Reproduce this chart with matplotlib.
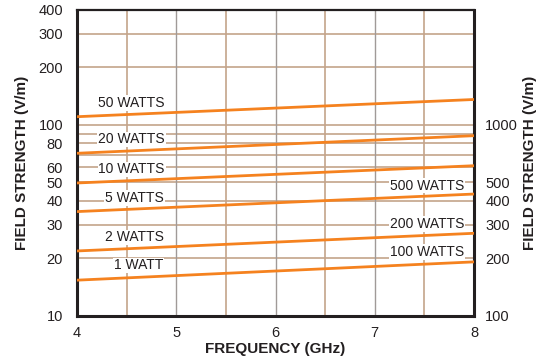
import numpy as np
import matplotlib
matplotlib.use("Agg")
from matplotlib import pyplot as plt
from matplotlib.ticker import FixedLocator, NullLocator

plt.rcParams['font.family'] = ['Liberation Sans', 'DejaVu Sans']

# frequency end points (GHz) and field strength (V/m) for each transmitter power
freq = [4, 8]
watts_1 = [15.4, 19.2]
watts_2 = [21.9, 27.1]
watts_5 = [35.2, 43.5]
watts_10 = [49.7, 61.2]
watts_20 = [71.1, 87.9]
watts_50 = [110.5, 136.0]

left_labels = ["1 WATT", "2 WATTS", "5 WATTS", "10 WATTS", "20 WATTS", "50 WATTS"]
right_labels = ["100 WATTS", "200 WATTS", "500 WATTS"]

left_ticks = [10, 20, 30, 40, 50, 60, 80, 100, 200, 300, 400]
right_ticks = [100, 200, 300, 400, 500, 1000]
grid_y = [20, 30, 40, 50, 60, 70, 80, 90, 100, 200, 300]
grid_x_half = [4.5, 5.5, 6.5, 7.5]
grid_x_int = [5, 6, 7]

orange = "#f5821f"
tan = "#c4a48a"
gray = "#a09a98"
ink = "#231f20"

fig = plt.figure(figsize=(5.38, 3.61), dpi=100)
ax = fig.add_axes([0.1431, 0.1247, 0.7380, 0.8476])
ax.set_yscale("log")
ax.set_xlim(4, 8)
ax.set_ylim(10, 400)

for g in grid_y:
    ax.axhline(g, color=tan, lw=1.2, zorder=1)
for g in grid_x_half:
    ax.axvline(g, color=tan, lw=1.2, zorder=1)
for g in grid_x_int:
    ax.axvline(g, color=gray, lw=1.0, zorder=1)

series = [watts_1, watts_2, watts_5, watts_10, watts_20, watts_50]
for s in series:
    ax.plot(freq, s, color=orange, lw=2.0, zorder=3, solid_capstyle="butt")

# label positions (x in GHz, y in V/m)
left_pos = [(4.62, 18.4), (4.58, 25.8), (4.58, 41.5), (4.55, 58.5), (4.55, 84.0), (4.55, 130.0)]
for txt, (x, y) in zip(left_labels, left_pos):
    ax.text(x, y, txt, ha="center", va="center", fontsize=10, color=ink, zorder=4,
            bbox=dict(facecolor="white", edgecolor="none", pad=0.6))
right_pos = [(7.53, 21.6), (7.53, 30.2), (7.53, 48.2)]
for txt, (x, y) in zip(right_labels, right_pos):
    ax.text(x, y, txt, ha="center", va="center", fontsize=10, color=ink, zorder=4,
            bbox=dict(facecolor="white", edgecolor="none", pad=0.6))

ax.xaxis.set_major_locator(FixedLocator([4, 5, 6, 7, 8]))
ax.set_xticklabels(["4", "5", "6", "7", "8"])
ax.yaxis.set_major_locator(FixedLocator(left_ticks))
ax.yaxis.set_minor_locator(NullLocator())
ax.set_yticklabels([str(t) for t in left_ticks])
ax.tick_params(axis="both", length=0, labelsize=10.5, colors=ink)
ax.tick_params(axis="x", pad=7)
ax.tick_params(axis="y", pad=10)

for side in ["left", "bottom", "right", "top"]:
    ax.spines[side].set_color(ink)
    ax.spines[side].set_linewidth(2.2)
ax.spines["top"].set_linewidth(1.6)

ax2 = ax.twinx()
ax2.set_yscale("log")
ax2.set_ylim(100, 4000)
ax2.yaxis.set_major_locator(FixedLocator(right_ticks))
ax2.yaxis.set_minor_locator(NullLocator())
ax2.set_yticklabels([str(t) for t in right_ticks])
ax2.tick_params(axis="y", length=0, labelsize=10.5, colors=ink, pad=8)
for side in ["left", "bottom", "right", "top"]:
    ax2.spines[side].set_visible(False)

fig.text(0.511, 0.033, "FREQUENCY (GHz)", ha="center", va="center",
         fontsize=11, fontweight="bold", color=ink)
fig.text(0.041, 0.55, "FIELD STRENGTH (V/m)", rotation=90, ha="center", va="center",
         fontsize=11, fontweight="bold", color=ink)
fig.text(0.985, 0.55, "FIELD STRENGTH (V/m)", rotation=90, ha="center", va="center",
         fontsize=11, fontweight="bold", color=ink)

fig.savefig("out.png", dpi=100)
